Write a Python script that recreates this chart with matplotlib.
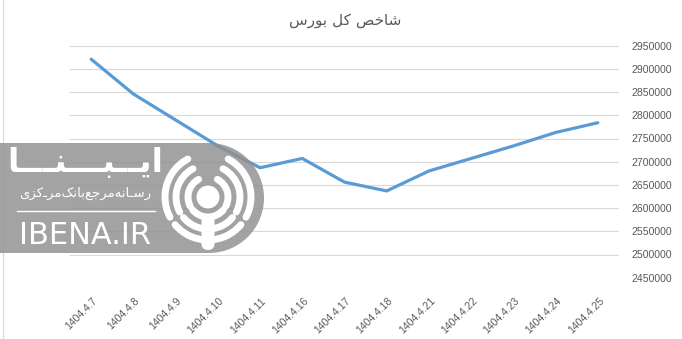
import matplotlib
matplotlib.use("Agg")
import matplotlib.pyplot as plt
from matplotlib import transforms
from matplotlib.patches import Rectangle, Circle, Arc, Wedge, FancyBboxPatch
from matplotlib.lines import Line2D

# ---------------- data ----------------
dates = ["1404.4.7", "1404.4.8", "1404.4.9", "1404.4.10", "1404.4.11", "1404.4.16",
         "1404.4.17", "1404.4.18", "1404.4.21", "1404.4.22", "1404.4.23", "1404.4.24",
         "1404.4.25"]
index_values = [2921000, 2846000, 2790000, 2734000, 2687000, 2707000,
                2656000, 2637000, 2680000, 2707000, 2734000, 2763000, 2784000]
y_ticks = [2450000, 2500000, 2550000, 2600000, 2650000, 2700000, 2750000,
           2800000, 2850000, 2900000, 2950000]
# "شاخص کل بورس" written with Arabic presentation forms in visual order
title_text = "\uFEB1\uFEAD\uFEEE\uFE91 \uFEDE\uFB90 \uFEBA\uFEA7\uFE8E\uFEB7"
logo_word = ("\uFE8E" + "\u0640" * 3 + "\uFEE8" + "\u0640" * 3 + "\uFE92"
             + "\u0640" * 2 + "\uFBFE\uFE8D")
logo_sub = ("\uFBFC\uFEB0\uFB90\u0640\uFEAE\uFEE3" "\uFB8F\uFEE7\uFE8E\uFE91"
            "\uFECA\uFE9F\uFEAE\uFEE3" "\uFEEA\uFEE7\uFE8E\u0640\uFEB3\uFEAD")
logo_site = "IBENA.IR"

W, H = 682, 339
fig = plt.figure(figsize=(W / 100, H / 100), dpi=100)
fig.patch.set_facecolor("white")

ax = fig.add_axes([70 / W, 1 - 277.7 / H, (619 - 70) / W, (277.7 - 45.7) / H])
x = list(range(len(dates)))
ax.plot(x, index_values, color="#5B9BD5", lw=2.3, solid_capstyle="round",
        solid_joinstyle="round", zorder=3)
ax.set_xlim(-0.5, len(dates) - 0.5)
ax.set_ylim(y_ticks[0], y_ticks[-1])
ax.set_yticks(y_ticks)
ax.set_yticklabels([str(v) for v in y_ticks])
ax.yaxis.tick_right()
ax.grid(axis="y", color="#D9D9D9", lw=0.8)
ax.set_axisbelow(True)
for s in ax.spines.values():
    s.set_visible(False)
ax.tick_params(axis="y", length=0, pad=9, labelsize=7.6, labelcolor="#595959")
ax.tick_params(axis="x", length=0, pad=13, labelsize=7.5, labelcolor="#595959")
ax.set_xticks(x)
ax.set_xticklabels(dates, rotation=45, ha="right", va="top")
offset = transforms.ScaledTranslation(8 / 100, 0, fig.dpi_scale_trans)
for lab in ax.get_xticklabels():
    lab.set_transform(lab.get_transform() + offset)
    lab.set_fontfamily("Liberation Sans")
for lab in ax.get_yticklabels():
    lab.set_fontfamily("Liberation Sans")

fig.text(345 / W, 1 - 21 / H, title_text, ha="center", va="center",
         fontsize=11, color="#595959", family="DejaVu Sans")

# chart border (left edge visible)
fig.add_artist(Line2D([2.5 / W, 2.5 / W], [0, 1], transform=fig.transFigure,
                      color="#D9D9D9", lw=0.8))

# ---------------- watermark ----------------
px = transforms.Affine2D().scale(1, -1).translate(0, H)
gray = "#8f8f8f"
alpha = 0.82
cx, cy, R = 209, 198, 55
fig.add_artist(Rectangle((0, cy - R), cx, 2 * R, transform=px, facecolor=gray,
                         edgecolor="none", alpha=alpha, zorder=5))
fig.add_artist(Wedge((cx, cy), R, -90, 90, transform=px, facecolor=gray,
                     edgecolor="none", alpha=alpha, zorder=5))
# rings of the icon
icx, icy = 208, 197
for r in (20, 32, 43):
    for t1, t2 in ((152, 242), (40, 140), (-62, 28)):
        a = Arc((icx, icy), 2 * r, 2 * r, theta1=t1, theta2=t2,
                transform=px, color="white", lw=5.0, zorder=6)
        a.set_capstyle("round")
        fig.add_artist(a)
fig.add_artist(Circle((icx, icy), 11.5, transform=px, facecolor="white",
                      edgecolor="none", zorder=6))
fig.add_artist(FancyBboxPatch((icx - 6.5, 215), 13, 35,
                              boxstyle="round,pad=0,rounding_size=6.5",
                              transform=px, facecolor="white", edgecolor="none",
                              zorder=6))
fig.add_artist(Line2D([17, 155], [211, 211], transform=px, color="white",
                      lw=1.0, zorder=6))
fig.text(85 / W, 1 - 163 / H, logo_word, ha="center", va="center", fontsize=24,
         color="white", weight="bold", family="DejaVu Sans", zorder=6)
fig.text(85 / W, 1 - 193 / H, logo_sub, ha="center", va="center", fontsize=9.5,
         color="white", family="DejaVu Sans", zorder=6)
fig.text(85 / W, 1 - 235 / H, logo_site, ha="center", va="center", fontsize=22,
         color="white", family="DejaVu Sans", zorder=6)

fig.savefig("out.png", dpi=100, facecolor="white")
